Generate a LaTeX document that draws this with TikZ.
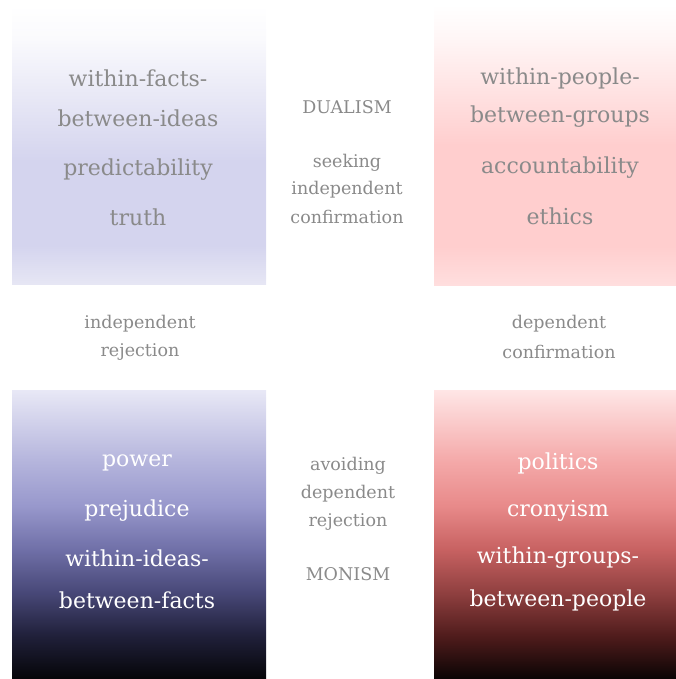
\documentclass[tikz,border=0pt]{standalone}
\usepackage{fontspec}
\setmainfont{DejaVu Serif}

\definecolor{labelgray}{HTML}{8A8A8A}
\definecolor{factsA}{HTML}{FAFAFD}
\definecolor{factsB}{HTML}{D4D4EE}
\definecolor{factsC}{HTML}{E6E6F4}
\definecolor{peopleA}{HTML}{FFF6F6}
\definecolor{peopleB}{HTML}{FFCECE}
\definecolor{peopleC}{HTML}{FFDEDE}
\definecolor{ideasA}{HTML}{E8E8F6}
\definecolor{ideasB}{HTML}{B4B4DC}
\definecolor{ideasC}{HTML}{9898CC}
\definecolor{ideasD}{HTML}{7070A8}
\definecolor{ideasE}{HTML}{484878}
\definecolor{ideasF}{HTML}{20203A}
\definecolor{ideasG}{HTML}{050508}
\definecolor{groupsA}{HTML}{FFE6E6}
\definecolor{groupsB}{HTML}{F4A8A8}
\definecolor{groupsC}{HTML}{E88A8A}
\definecolor{groupsD}{HTML}{C86262}
\definecolor{groupsE}{HTML}{904040}
\definecolor{groupsF}{HTML}{501C1C}
\definecolor{groupsG}{HTML}{0A0404}

\pgfdeclareverticalshading{factsfill}{100bp}{color(0bp)=(factsC); color(25bp)=(factsC);
  color(32bp)=(factsB); color(47bp)=(factsB); color(69bp)=(factsA); color(75bp)=(white); color(100bp)=(white)}
\pgfdeclareverticalshading{peoplefill}{100bp}{color(0bp)=(peopleC); color(25bp)=(peopleC);
  color(32bp)=(peopleB); color(50bp)=(peopleB); color(69bp)=(peopleA); color(75bp)=(white); color(100bp)=(white)}
\pgfdeclareverticalshading{ideasfill}{100bp}{color(0bp)=(ideasG); color(25bp)=(ideasG);
  color(32.5bp)=(ideasF); color(40bp)=(ideasE); color(47.5bp)=(ideasD); color(55bp)=(ideasC);
  color(62.5bp)=(ideasB); color(75bp)=(ideasA); color(100bp)=(ideasA)}
\pgfdeclareverticalshading{groupsfill}{100bp}{color(0bp)=(groupsG); color(25bp)=(groupsG);
  color(32.5bp)=(groupsF); color(40bp)=(groupsE); color(47.5bp)=(groupsD); color(55bp)=(groupsC);
  color(62.5bp)=(groupsB); color(75bp)=(groupsA); color(100bp)=(groupsA)}

\begin{document}
\begin{tikzpicture}[x=1pt,y=-1pt,
  big/.style={font=\fontsize{22}{26}\selectfont, text=labelgray},
  bright/.style={font=\fontsize{22}{26}\selectfont, text=white},
  small/.style={font=\fontsize{17.5}{21}\selectfont, text=labelgray}]
  \useasboundingbox (0,0) rectangle (676,679);
  \shade[shading=factsfill] (12,5) rectangle (266,284);
  \shade[shading=peoplefill] (434,5) rectangle (676,285);
  \shade[shading=ideasfill] (12,390) rectangle (266,679);
  \shade[shading=groupsfill] (434,390) rectangle (676,679);

  \node[big] (factsA) at (138,78) {within-facts-};
  \node[big] (factsB) at (138,118) {between-ideas};
  \node[big] (factsC) at (138,170) {predictability};
  \node[big] (factsD) at (138,217) {truth};

  \node[big] (peopleA) at (560,78) {within-people-};
  \node[big] (peopleB) at (560,117) {between-groups};
  \node[big] (peopleC) at (560,168) {accountability};
  \node[big] (peopleD) at (560,216) {ethics};

  \node[small] (dualism) at (347,107) {DUALISM};
  \node[small] (seekA) at (347,163) {seeking};
  \node[small] (seekB) at (347,190) {independent};
  \node[small] (seekC) at (347,217) {confirmation};

  \node[small] (irejA) at (140,324) {independent};
  \node[small] (irejB) at (140,352) {rejection};
  \node[small] (dconfA) at (559,324) {dependent};
  \node[small] (dconfB) at (559,352) {confirmation};

  \node[small] (avoidA) at (348,466) {avoiding};
  \node[small] (avoidB) at (348,494) {dependent};
  \node[small] (avoidC) at (348,522) {rejection};
  \node[small] (monism) at (348,574) {MONISM};

  \node[bright] (ideasA) at (137,463) {power};
  \node[bright] (ideasB) at (137,511) {prejudice};
  \node[bright] (ideasC) at (137,558) {within-ideas-};
  \node[bright] (ideasD) at (137,600) {between-facts};

  \node[bright] (groupsA) at (558,463) {politics};
  \node[bright] (groupsB) at (558,511) {cronyism};
  \node[bright] (groupsC) at (558,558) {within-groups-};
  \node[bright] (groupsD) at (558,600) {between-people};
\end{tikzpicture}
\end{document}
